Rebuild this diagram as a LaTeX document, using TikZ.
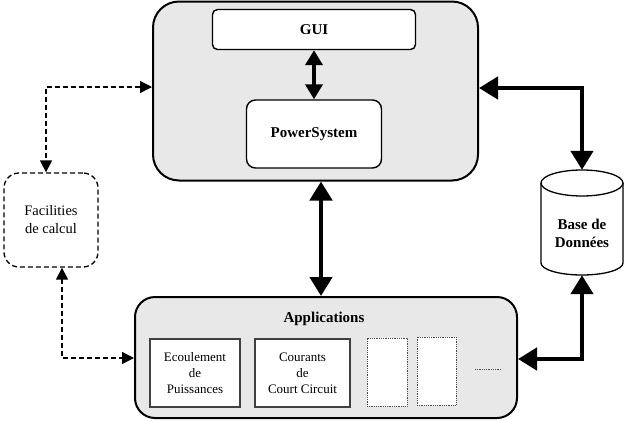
\documentclass[tikz,border=0pt]{standalone}
\usepackage{fontspec}
\setmainfont{Liberation Serif}
\usetikzlibrary{arrows.meta}

\begin{document}
\begin{tikzpicture}[x=1pt,y=-1pt,
  panel/.style={draw, line width=2pt, fill=black!9, rounded corners=#1, inner sep=0pt},
  inbox/.style={draw, line width=1.4pt, fill=white, rounded corners=#1, inner sep=0pt,
    font=\fontsize{15}{17}\selectfont\bfseries},
  appbox/.style={draw=black!75, line width=1.3pt, fill=white, inner sep=0pt, align=center,
    font=\fontsize{13}{16}\selectfont},
  spare/.style={draw=black!70, densely dotted, line width=0.8pt, fill=white, inner sep=0pt},
  title/.style={font=\fontsize{15}{18}\selectfont\bfseries, align=center, inner sep=0pt},
  boldlink/.style={line width=4.5pt, {Triangle[length=19pt,width=22pt]}-{Triangle[length=19pt,width=22pt]}},
  midlink/.style={line width=4pt, {Triangle[length=15pt,width=17pt]}-{Triangle[length=15pt,width=17pt]}},
  softlink/.style={line width=1.3pt, dashed, dash pattern=on 5pt off 3pt,
    {Triangle[length=12pt,width=12pt]}-{Triangle[length=12pt,width=12pt]}},
]
\useasboundingbox (0,0) rectangle (625,421);

% main application core
\node[panel=26pt, minimum width=325pt, minimum height=179pt] (core) at (315.5,91) {};
\node[inbox=5pt, minimum width=203pt, minimum height=40pt] (gui) at (314,29.5) {GUI};
\node[inbox=9pt, minimum width=135pt, minimum height=68pt] (ps) at (314,134) {PowerSystem};

% applications panel
\node[panel=20pt, minimum width=382pt, minimum height=121pt] (apps) at (326,357.5) {};
\node[title] (appstitle) at (324,319) {Applications};
\node[appbox, minimum width=90pt, minimum height=68pt] (ecoul) at (195,373) {Ecoulement\\de\\Puissances};
\node[appbox, minimum width=95pt, minimum height=68pt] (court) at (302.5,373) {Courants\\de\\Court Circuit};
\node[spare, minimum width=40pt, minimum height=68pt] (spareA) at (387,372) {};
\node[spare, minimum width=39pt, minimum height=68pt] (spareB) at (436.5,371) {};
\draw[black!70, densely dotted, line width=0.8pt] (475,369) -- (502,369);

% computing facilities
\node[draw, dashed, dash pattern=on 5pt off 3pt, line width=1.3pt, rounded corners=15pt,
  minimum width=94pt, minimum height=94pt, align=center,
  font=\fontsize{14.5}{18}\selectfont] (fac) at (51,220) {Facilities\\de calcul};

% database cylinder
\node[minimum width=82pt, minimum height=105pt, inner sep=0pt] (db) at (582,222.5) {};
\draw[line width=1.3pt, fill=white] (541,183) -- (541,263)
  arc[start angle=180, end angle=0, x radius=41, y radius=12] -- (623,183);
\draw[line width=1.3pt, fill=white] (582,183) ellipse[x radius=41, y radius=13];
\node[title] (dbtext) at (582,233) {Base de\\Données};

% routing points
\coordinate (kcore) at (321,0);
\coordinate (kdbtop) at (582,88);
\coordinate (kdbbot) at (582,359);
\coordinate (kfactop) at (46,87);
\coordinate (kfacbot) at (62,358);

% links
\draw[midlink] (gui.south) -- (ps.north);
\draw[boldlink] (core.south -| kcore) -- (apps.north -| kcore);
\draw[boldlink] (core.east |- kdbtop) -| (db.north);
\draw[boldlink] (db.south) |- (apps.east |- kdbbot);
\draw[softlink] (core.west |- kfactop) -| (fac.north -| kfactop);
\draw[softlink] (fac.south -| kfacbot) |- (apps.west |- kfacbot);
\end{tikzpicture}
\end{document}
